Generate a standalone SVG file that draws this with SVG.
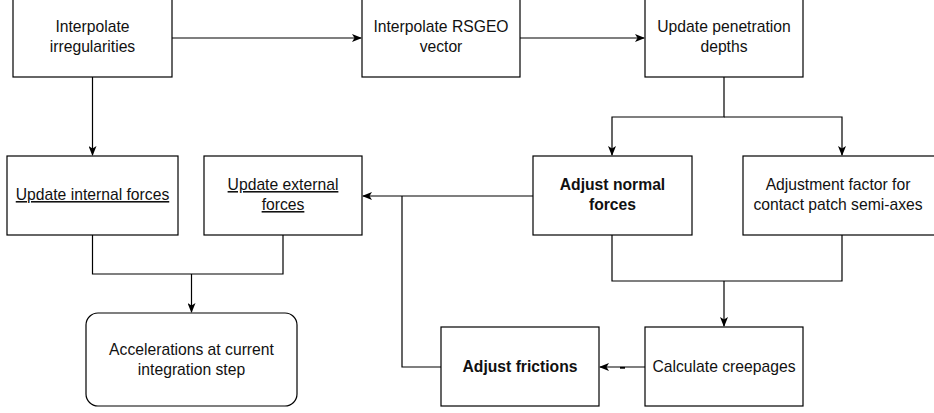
<svg xmlns="http://www.w3.org/2000/svg" width="934" height="413" viewBox="0 0 934 413">
<defs>
<marker id="arr" viewBox="0 0 10 8" refX="9" refY="4" markerWidth="10" markerHeight="8" markerUnits="userSpaceOnUse" orient="auto">
<path d="M0,0 L10,4 L0,8 L2.5,4 z" fill="#000"/>
</marker>
<style>
.box{fill:#fff;stroke:#000;stroke-width:1.2}
.t{font-family:"Liberation Sans",Arial,sans-serif;font-size:15.7px;fill:#111;text-anchor:middle}
.b{font-weight:bold}
.u{text-decoration:underline}
.c{fill:none;stroke:#000;stroke-width:1.2}
.a{marker-end:url(#arr)}
</style>
</defs>
<g id="connectors">
<path class="c a" d="M172,38 H361"/>
<path class="c a" d="M520,38 H644"/>
<path class="c a" d="M92.5,77 V155"/>
<path class="c a" d="M724,77 V117 H612 V155"/>
<path class="c a" d="M724,117 H842 V155"/>
<path class="c" d="M92.5,235 V274 H283 V235"/>
<path class="c a" d="M191.5,274 V312"/>
<path class="c a" d="M533,196 H363"/>
<path class="c" d="M441,367 H402 V196"/>
<path class="c" d="M612,235 V281 H842 V235"/>
<path class="c a" d="M724,281 V326"/>
<path class="c a" d="M645,367 H600"/>
<path d="M620,367.8 H625" stroke="#000" stroke-width="1.8"/>
</g>
<g id="interp-irreg"><rect class="box" x="13" y="-3" width="159" height="80"/><text class="t" x="92.5" y="32">Interpolate</text><text class="t" x="92.5" y="52">irregularities</text></g>
<g id="interp-rsgeo"><rect class="box" x="362" y="-3" width="158" height="80"/><text class="t" x="441" y="32">Interpolate RSGEO</text><text class="t" x="441" y="52">vector</text></g>
<g id="update-pen"><rect class="box" x="645" y="-3" width="158" height="80"/><text class="t" x="724" y="32">Update penetration</text><text class="t" x="724" y="52">depths</text></g>
<g id="internal"><rect class="box" x="7" y="156" width="171" height="79"/><text class="t u" x="92.5" y="200">Update internal forces</text></g>
<g id="external"><rect class="box" x="204" y="156" width="158" height="79"/><text class="t u" x="283" y="190">Update external</text><text class="t u" x="283" y="210">forces</text></g>
<g id="normal"><rect class="box" x="533" y="156" width="159" height="79"/><text class="t b" x="612.5" y="190">Adjust normal</text><text class="t b" x="612.5" y="210">forces</text></g>
<g id="adjfactor"><rect class="box" x="743" y="156" width="198" height="79"/><text class="t" x="838" y="190">Adjustment factor for</text><text class="t" x="838" y="210">contact patch semi-axes</text></g>
<g id="accel"><rect class="box" x="86" y="313" width="211" height="93" rx="12" ry="12"/><text class="t" x="191.5" y="355">Accelerations at current</text><text class="t" x="191.5" y="375">integration step</text></g>
<g id="frictions"><rect class="box" x="441" y="327" width="158" height="79"/><text class="t b" x="520" y="372">Adjust frictions</text></g>
<g id="creepages"><rect class="box" x="645" y="327" width="158" height="79"/><text class="t" x="724" y="372">Calculate creepages</text></g>
</svg>
